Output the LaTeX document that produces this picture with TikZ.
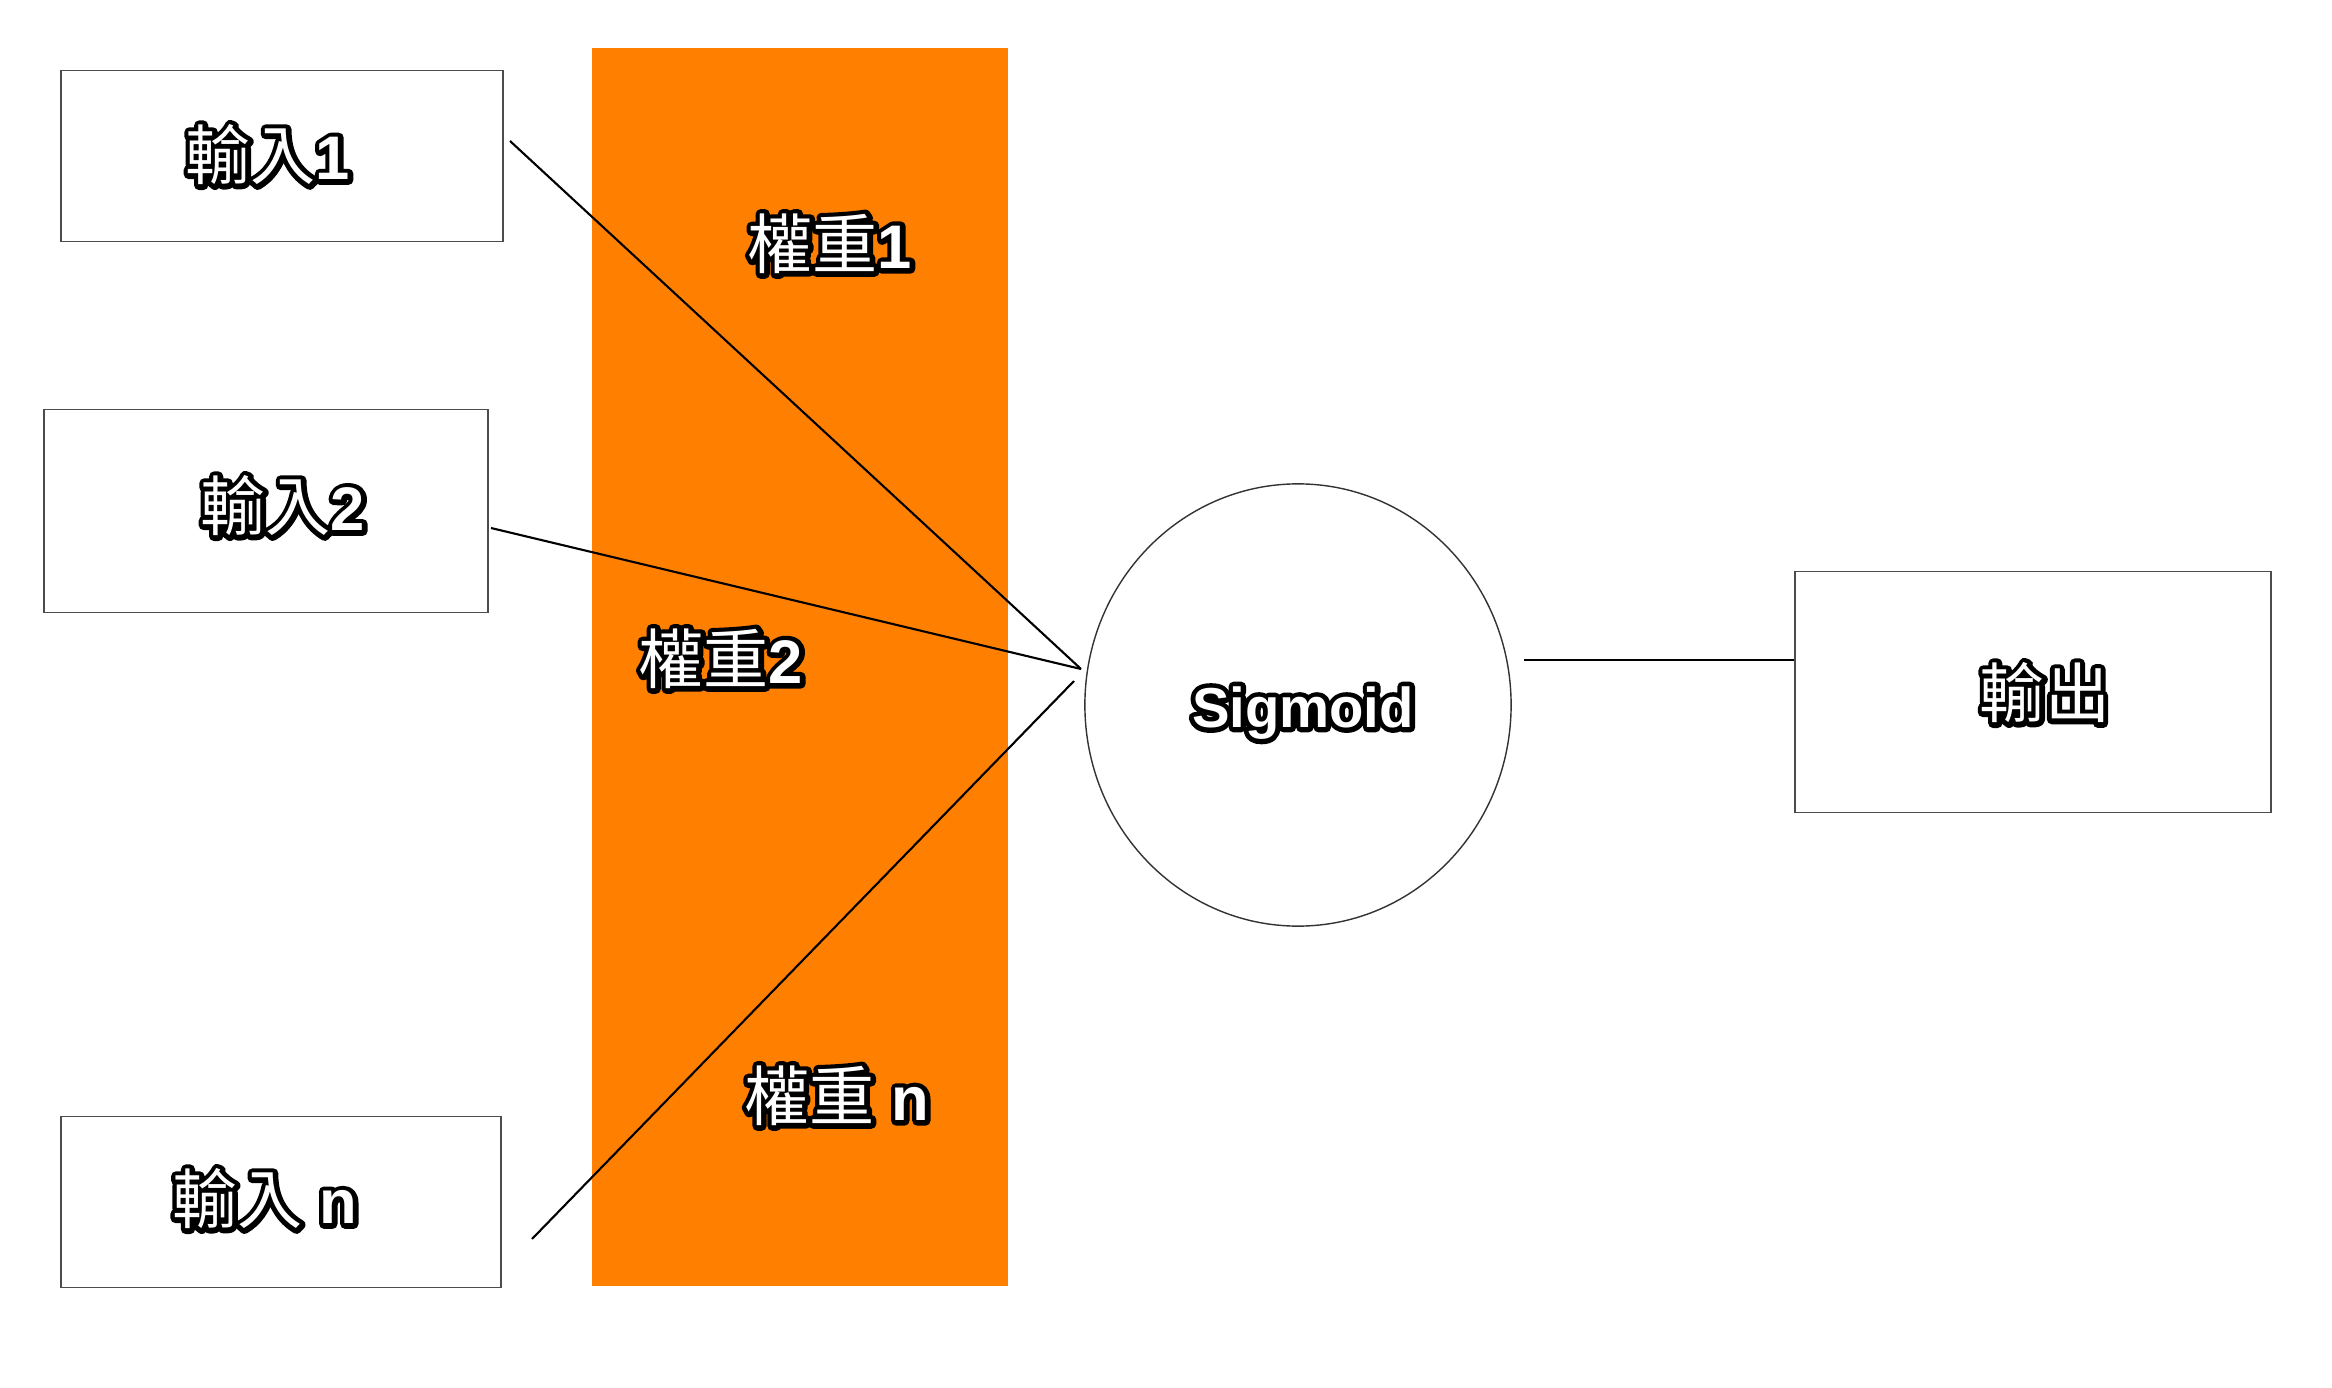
\documentclass[tikz,border=0pt]{standalone}
\usepackage{fontspec}
\setmainfont{Liberation Sans}
\newfontfamily\cjk{Noto Sans CJK TC}
\usetikzlibrary{positioning, shapes.geometric}
\definecolor{wgtorange}{RGB}{255,128,0}
\newcommand{\zh}[1]{{\cjk\mdseries\fontsize{18.5}{22}\selectfont #1}}
% outlined text: black stroked copy under a white filled copy
\newcommand{\hl}[1]{\leavevmode\rlap{\special{pdf:literal direct 2 Tr 2.8 w 1 j 1 J 0 G}#1\special{pdf:literal direct 0 Tr 0.4 w 0 j 0 J}}#1}

\begin{document}
\begin{tikzpicture}[x=0.01cm, y=-0.01cm,
    box/.style={draw=black!70, line width=0.5pt, inner sep=0pt},
    lbl/.style={text=white, font=\fontsize{17.5}{21}\selectfont\bfseries}]
        \useasboundingbox[fill=white] (0,0) rectangle (2332,1388);
        \fill[wgtorange] (592,48) rectangle (1008,1286);
        \node[box, minimum width=4.41cm, minimum height=1.71cm] (in1) at (282,156) {};
        \node[box, minimum width=4.43cm, minimum height=2.03cm] (in2) at (266,511) {};
        \node[box, minimum width=4.39cm, minimum height=1.71cm] (inn) at (281,1202) {};
        \node[box, minimum width=4.75cm, minimum height=2.41cm] (out) at (2033,692) {};
        \node[draw=black!80, line width=0.4pt, ellipse, inner sep=0pt,
            minimum width=4.26cm, minimum height=4.42cm] (sig) at (1298,705) {};
        \node[lbl] at (268,155) {\hl{\zh{輸入}1}};
        \node[lbl] at (283,506) {\hl{\zh{輸入}2}};
        \node[lbl] at (265,1199) {\hl{\zh{輸入} n}};
        \node[lbl] at (830,244) {\hl{\zh{權重}1}};
        \node[lbl] at (721,659) {\hl{\zh{權重}2}};
        \node[lbl] at (837,1096) {\hl{\zh{權重} n}};
        \node[lbl, font=\fontsize{16}{20}\selectfont\bfseries] at (1303,713) {\hl{Sigmoid}};
        \node[lbl] at (2045,693) {\hl{\zh{輸出}}};
        \coordinate (s1) at (510,141);
        \coordinate (s2) at (491,528);
        \coordinate (s3) at (532,1239);
        \coordinate (e1) at (1081,669);
        \coordinate (e2) at (1081,669);
        \coordinate (e3) at (1074,681);
        \coordinate (o) at (1524,660);
        \foreach \i in {1,2,3}
        {
            \draw[line width=0.6pt] (s\i) -- (e\i);
        }
        \draw[line width=0.6pt] (o) -- (o -| out.west);
    \end{tikzpicture}
\end{document}
